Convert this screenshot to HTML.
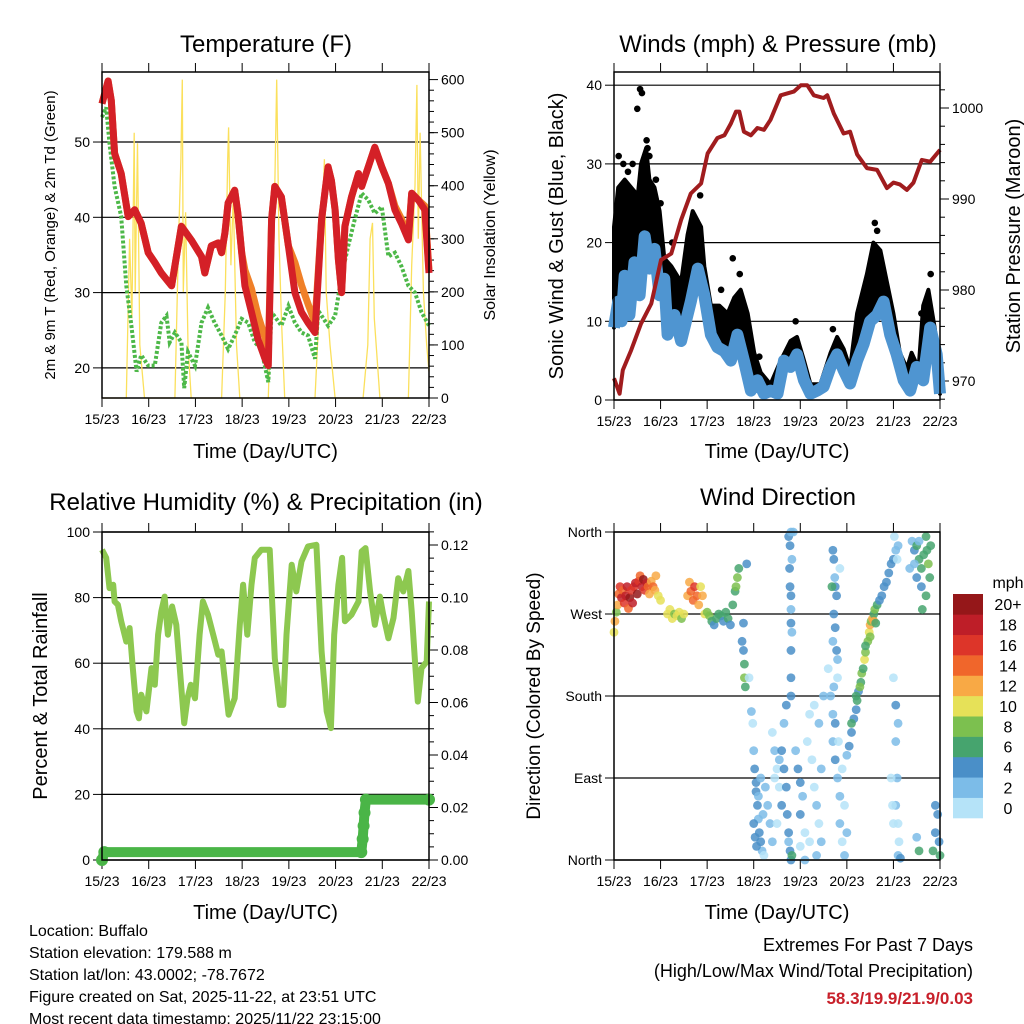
<!DOCTYPE html>
<html><head><meta charset="utf-8"><style>
body{margin:0;background:#fff;}
svg{display:block;font-family:"Liberation Sans",sans-serif;}
</style></head><body>
<svg id="c" width="1024" height="1024" viewBox="0 0 1024 1024" xmlns="http://www.w3.org/2000/svg"></svg>
<script>
// ---- data ----
const dayLabels=["15/23","16/23","17/23","18/23","19/23","20/23","21/23","22/23"];
const tempT=[0,.13,.2,.27,.41,.56,.7,.84,.99,1.13,1.27,1.49,1.7,1.91,2.13,2.2,2.34,2.49,2.56,2.63,2.7,2.84,2.91,2.99,3.06,3.2,3.34,3.49,3.56,3.63,3.7,3.84,3.99,4.13,4.27,4.41,4.56,4.7,4.77,4.84,4.91,4.99,5.06,5.13,5.2,5.34,5.49,5.56,5.7,5.84,5.99,6.13,6.27,6.41,6.56,6.63,6.77,6.91,7];
const tempRed=[55.1,58.1,55.5,48.5,45.8,40.1,41,39.2,35.3,34,32.6,30.9,38.8,37,34.8,32.6,36.2,36.6,35.3,37.9,41.9,43.6,40.5,35.3,30.9,27.4,23.8,21.2,20.3,39.7,44.1,42.7,36.2,30,27.4,26,24.7,39.7,43.2,46.7,44.9,41,34.4,30,38.8,42.7,45.8,44.1,46.7,49.3,46.7,44.5,41,39.2,37,43.2,42.3,41,32.6];
const tempOrange=[55.1,58.1,55.5,48.5,45.8,40.1,41,39.2,35.3,34,32.6,30.9,38.8,37,34.8,32.6,36.2,36.6,35.3,37.9,41.9,43.6,40.5,35.3,33,30.5,27,24,22,39.7,44.1,42.7,36.2,34,31,28.5,26,39.7,43.2,46.7,44.9,41,34.4,30,38.8,42.7,45.8,44.1,46.7,49.3,46.7,44.5,41.5,39.8,37.5,43.2,42.3,41.5,33];
const dewT=[0,.09,.16,.27,.41,.52,.63,.74,.84,.99,1.13,1.27,1.38,1.45,1.56,1.7,1.76,1.84,1.99,2.13,2.27,2.41,2.56,2.7,2.84,2.99,3.13,3.27,3.41,3.56,3.63,3.84,3.99,4.13,4.27,4.41,4.56,4.63,4.84,4.99,5.13,5.27,5.41,5.56,5.7,5.84,5.99,6.13,6.27,6.41,6.56,6.7,6.84,7];
const dewVal=[53.3,54.6,49.8,44.1,40.1,30.9,25.6,19.5,21.7,20.3,20.3,26,26.9,23.4,24.7,23.4,17.3,22.1,20.3,26,28,26,24.3,22.5,24.3,26.5,26,23.4,22.5,18.1,27.4,25.6,28.2,26,24.7,24.3,21.2,27.6,25.6,26.9,32.2,36.2,39.7,43.2,42.3,40.5,41.4,34.8,35.3,33.5,30.9,30,27.4,25.6];
const solarT=[0,.52,.59,.64,.69,.71,.76,.81,.91,1.56,1.64,1.69,1.72,1.74,1.79,1.84,1.91,2.56,2.64,2.69,2.71,2.76,2.81,2.88,2.95,3.56,3.64,3.7,3.74,3.79,3.84,3.91,4.56,4.64,4.7,4.76,4.8,4.88,4.99,5.59,5.69,5.74,5.79,5.83,5.95,6.56,6.63,6.7,6.74,6.77,6.81,6.88,6.95,7];
const solarVal=[0,0,300,150,500,200,480,100,0,0,300,450,600,200,350,100,0,0,200,450,510,250,380,100,0,0,250,400,600,300,150,0,0,150,300,450,200,100,0,0,100,300,330,150,0,0,250,400,590,300,500,200,100,50];
const presT=[0,.12,.19,.37,.58,.8,1.01,1.23,1.44,1.65,1.87,2.01,2.22,2.37,2.51,2.62,2.69,2.79,2.94,3.08,3.22,3.36,3.58,3.72,3.86,4.01,4.15,4.29,4.5,4.58,4.72,4.93,5.07,5.22,5.43,5.65,5.86,6,6.14,6.29,6.43,6.61,6.79,7];
const presVal=[970.3,968.6,971.2,973.4,976.3,978.5,983.3,984,987.7,990.6,991.7,995,996.7,997,998.3,999.6,999.6,997.4,997,997.8,997.6,998.7,1001.4,1001.6,1001.8,1002.5,1002.5,1001.4,1001.1,1001.4,999.4,997.2,997.4,994.9,993.4,993.2,991.2,991.8,991.6,991,991.8,994.3,994.1,995.4];
const windT=[0,.09,.16,.23,.33,.44,.55,.66,.76,.87,.98,1.08,1.15,1.3,1.44,1.65,1.8,1.94,2.08,2.22,2.37,2.51,2.65,2.79,2.94,3.08,3.22,3.36,3.51,3.65,3.79,3.93,4.08,4.22,4.36,4.5,4.65,4.79,4.93,5.07,5.22,5.36,5.5,5.65,5.79,5.93,6.07,6.22,6.36,6.5,6.64,6.79,6.93,7];
const windVal=[9.2,12.5,10,15.8,10.8,17.5,13.3,20.8,16.7,19.2,13.3,15.4,8.3,10.8,7.5,12.5,16.7,13.3,8.3,6.7,6.2,5,8.3,5,1.2,2.5,.8,1.2,.8,5,4.2,5.8,2.5,.8,1.2,1.7,4.2,5.8,3.8,2.1,5,7.1,10,10.8,12.5,8.3,5.8,2.5,1.2,4.2,2.5,9.2,5.8,.8];
const gustT=[0,.09,.23,.37,.51,.58,.69,.76,.87,.98,1.08,1.23,1.44,1.58,1.69,1.87,1.94,2.08,2.26,2.44,2.58,2.72,2.87,3.01,3.15,3.36,3.58,3.79,3.93,4.08,4.22,4.43,4.65,4.79,4.93,5.07,5.22,5.43,5.57,5.72,5.86,6,6.14,6.29,6.39,6.54,6.64,6.75,6.89,7];
const gustVal=[22,27,28,27,26,30,32,28,27,24,18,17,15,21,24,22,17,12,12,11,13,14,11,6,3.5,2,5,7.5,8,5,2,2,6,8,6.5,4,11,16,20,19,15,11,6,4,6,4,12,14,9,1];
const gustOutT=[0.1,0.2,0.3,0.4,0.5,0.56,0.6,0.7,0.72,0.76,0.9,1.0,1.25,1.72,1.85,2.3,2.55,2.7,3.12,3.9,4.7,5.6,5.65,6.6,6.8];
const gustOutVal=[31,30,29,30,37,39.5,39,33,32,31,28,25,20,22.5,26,14,18,16,5.5,10,9,22.5,21.5,11,16];
const rhT=[0,.09,.16,.24,.27,.34,.41,.52,.59,.66,.74,.79,.84,.95,1.06,1.13,1.2,1.27,1.34,1.41,1.5,1.59,1.66,1.71,1.76,1.83,1.9,1.99,2.09,2.16,2.27,2.38,2.49,2.56,2.64,2.71,2.84,2.95,3.02,3.11,3.2,3.27,3.41,3.59,3.7,3.81,3.88,3.95,4.06,4.16,4.27,4.41,4.59,4.7,4.81,4.9,4.97,5.06,5.14,5.2,5.34,5.49,5.56,5.64,5.74,5.84,5.95,6.02,6.13,6.24,6.34,6.45,6.56,6.63,6.7,6.76,6.84,6.95,7];
const rhVal=[94.6,92.1,82.9,83.9,78.8,77.8,72.8,66.6,70.7,58.5,45.3,43.2,50.4,45.3,58.5,53.4,68.7,75.8,80.3,68.7,77.3,71.7,59.5,50.4,41.7,49.3,53.4,49.3,68.7,78.8,74.8,68.7,62.6,63.6,53.4,44.3,49.3,71.7,83.9,68.7,83.9,92.1,94.6,94.6,61.5,47.3,47.3,68.7,90,81.9,91,95.6,96.1,63.6,45.3,40.2,68.7,83.9,92.1,72.8,74.8,78.8,94.1,95.1,81.9,71.7,80.3,74.8,67.6,73.8,85.9,81.9,88.1,75.8,60.5,48.3,58.5,60.5,78.8];
const precT=[0,.05,5.55,5.58,5.6,5.62,5.65,7];
const precVal=[0,.003,.003,.008,.013,.018,.023,.023];
const dirDay=[0,.02,.05,.08,.1,.13,.16,.19,.22,.25,.28,.31,.34,.37,.4,.43,.46,.5,.53,.56,.6,.63,.66,.7,.73,.76,.8,.84,.88,.9,.95,1,1.15,1.2,1.25,1.3,1.35,1.4,1.45,1.5,1.58,1.62,1.65,1.7,1.73,1.78,1.82,1.86,1.9,1.95,2,2.05,2.1,2.15,2.2,2.25,2.3,2.35,2.4,2.45,2.5,2.55,2.6,2.62,2.65,2.68,2.75,2.78,2.8,2.8,2.82,2.78,2.85,2.9,2.95,
3,3.02,3.05,3.05,3.08,3.1,3.12,3.15,3.18,3,3.03,3.06,3.1,3.15,3.2,3.22,2.98,3.25,3.3,3.35,
3.4,3.45,3.5,3.55,3.6,3.6,3.65,3.7,3.72,3.75,3.78,3.5,3.4,3.45,3.55,3.65,3.7,3.8,3.82,3.75,
3.75,3.78,3.8,3.82,3.78,3.8,3.8,3.82,3.8,3.8,3.8,3.85,3.77,3.8,
3.9,3.95,4,4.05,4,4.1,4.15,4.2,4.25,4.3,4.35,4.4,4.45,4.3,4.4,4.45,4.5,4.2,4.1,4.35,4,
4.7,4.72,4.75,4.78,4.72,4.75,4.7,4.78,4.8,4.74,4.8,4.72,4.68,4.6,4.65,4.7,4.75,4.7,4.75,4.8,4.85,4.85,4.9,4.95,4.82,4.9,4.95,5,4.85,
5,5.05,5.1,5.15,5.2,5.22,5.25,5.3,5.32,5.35,5.38,5.4,5.45,5.48,5.5,5.52,5.55,5.58,5.6,5.65,5.7,5.75,5.8,5.85,5.9,5.95,6,5.1,5.2,5.28,5.4,5.58,5.62,5.5,
6.02,6.05,6.08,6.1,6,6.05,6.1,6.08,6.05,6.1,6.12,6.1,6.15,6.05,
6.4,6.45,6.5,6.55,6.6,6.65,6.7,6.72,6.75,6.78,6.8,6.6,6.5,6.45,6.7,6.55,6.35,6.62,
6.85,6.9,6.95,6.98,7,6.9,6.5,6.55,5.95,5.98,6];
const dirDeg=[250,262,272,280,292,300,288,296,282,290,300,276,288,296,282,300,304,292,306,312,300,308,296,304,300,292,306,300,296,312,290,285,270,275,265,270,268,272,265,270,290,305,295,285,300,290,280,300,290,270,272,268,262,258,265,270,268,262,272,265,258,280,295,300,310,320,240,230,215,200,190,260,325,200,163,
120,100,85,75,60,45,30,20,10,40,25,15,70,90,50,5,150,80,60,40,
140,120,100,80,60,120,100,80,50,30,10,40,20,90,110,150,170,0,5,20,
355,345,360,330,300,290,275,250,230,200,180,360,320,260,
120,100,85,70,50,30,130,160,110,80,60,40,20,170,150,100,180,20,0,5,15,
340,330,300,290,270,255,240,230,220,310,200,190,300,210,180,160,150,130,110,90,70,40,20,5,130,100,60,30,320,
115,125,140,155,165,175,185,195,205,210,220,228,240,250,258,262,265,270,275,280,285,290,300,305,315,325,330,150,180,190,235,262,260,245,
355,340,330,345,200,170,150,90,60,40,20,5,2,130,
350,340,345,330,320,335,355,340,325,310,345,300,310,325,290,350,320,275,
10,30,50,20,5,60,25,10,90,60,40];
const dirSpd=[10,12,8,12,14,16,18,14,16,18,18,14,20,16,18,16,18,20,16,14,18,20,16,18,14,12,12,14,12,12,10,10,10,10,10,8,10,10,8,10,12,12,14,14,16,14,12,10,12,10,8,8,6,4,6,6,6,4,6,6,4,6,6,8,8,6,4,4,6,8,6,4,4,0,2,
2,4,4,4,4,2,4,4,2,4,4,4,2,2,2,0,0,2,2,2,
0,2,0,0,4,4,4,4,4,4,4,0,2,0,2,2,4,4,6,2,
4,4,2,2,4,4,2,2,4,4,4,2,4,4,
2,4,4,2,4,0,0,0,0,0,2,0,2,0,2,2,2,0,2,2,0,
4,4,4,4,4,4,2,4,2,2,0,2,6,0,2,2,4,2,4,2,2,2,0,2,0,0,0,2,0,
2,4,4,4,4,6,4,6,8,6,10,8,8,10,12,8,12,6,8,6,4,4,4,4,4,4,4,6,6,8,6,12,6,8,
0,2,0,2,0,4,2,2,2,0,0,2,4,2,
2,4,6,6,6,6,6,6,8,6,6,4,4,2,6,2,2,6,
6,4,4,4,6,4,2,6,0,0,0];
const spdLabels=["0","2","4","6","8","10","12","14","16","18","20+"];
const spdColors=["#b5e3f8","#7cbce8","#4a8fc8","#46a46e","#7cc04f","#e6e158","#f8a945","#f0662b","#dd3529","#be1e28","#951719"];

// ---- helpers ----
const NS="http://www.w3.org/2000/svg";
const svg=document.getElementById('c');
function el(tag,attrs,parent){const e=document.createElementNS(NS,tag);for(const k in attrs)e.setAttribute(k,attrs[k]);(parent||svg).appendChild(e);return e;}
function txt(s,x,y,size,anchor,parent,rot){const e=el('text',{x:x,y:y,'font-size':size,'text-anchor':anchor||'middle',fill:'#000'},parent);if(rot)e.setAttribute('transform','rotate('+rot+' '+x+' '+y+')');e.textContent=s;return e;}
function lin(d0,d1,r0,r1){return v=>r0+(v-d0)/(d1-d0)*(r1-r0);}

function panel(name,x0,x1,y0,y1,xlabY){
  const g=el('g',{});
  
  
  const xs=lin(0,7,x0,x1);
  dayLabels.forEach((d,i)=>{
    const x=xs(i);
    el('line',{x1:x,x2:x,y1:y0-9,y2:y0,stroke:'#000','stroke-width':1},g);
    el('line',{x1:x,x2:x,y1:y1,y2:y1+9,stroke:'#000','stroke-width':1},g);
    const t=txt(d,x,y1+26,14,'middle',g);
    
    
  });
  const xt=txt('Time (Day/UTC)',(x0+x1)/2,xlabY,20,'middle',g);
  
  
  return {g,xs};
}
function frame(g,x0,x1,y0,y1){el('rect',{x:x0,y:y0,width:x1-x0,height:y1-y0,fill:'none',stroke:'#000','stroke-width':1.5},g);}
function poly(g,xs,ys,T,V,attrs){const pts=T.map((t,i)=>xs(t).toFixed(1)+','+ys(V[i]).toFixed(1)).join(' ');const a=Object.assign({points:pts,fill:'none'},attrs);return el('polyline',a,g);}
function leftTicks(g,x0,x1,ys,vals,labels,grid){
  vals.forEach((v,i)=>{const y=ys(v);
    el('line',{x1:x0-9,x2:x0,y1:y,y2:y,stroke:'#000'},g);
    if(grid)el('line',{x1:x0,x2:x1,y1:y,y2:y,stroke:'#000','stroke-width':1.2},g);
    const t=txt(labels[i],x0-12,y+5,14,'end',g);
    
    });
}
function rightTicks(g,x1,ys,vals,labels,minor){
  vals.forEach((v,i)=>{const y=ys(v);
    el('line',{x1:x1,x2:x1+9,y1:y,y2:y,stroke:'#000'},g);
    const t=txt(labels[i],x1+12,y+5,14,'start',g);
    
    });
  (minor||[]).forEach(v=>{const y=ys(v);el('line',{x1:x1,x2:x1+5,y1:y,y2:y,stroke:'#000'},g);});
}
function range(a,b,s){const r=[];for(let v=a;v<=b+1e-9;v+=s)r.push(+v.toFixed(4));return r;}

// ---- Temperature panel ----
(function(){
  const x0=102,x1=429,y0=72,y1=398;
  const {g,xs}=panel('temperature-panel',x0,x1,y0,y1,458);
  const yT=lin(16,59.3,y1,y0), yS=lin(0,600,y1,79.6);
  leftTicks(g,x0,x1,yT,[20,30,40,50],["20","30","40","50"],true);
  rightTicks(g,x1,yS,[0,100,200,300,400,500,600],["0","100","200","300","400","500","600"],range(20,580,20));
  const s=poly(g,xs,yS,solarT,solarVal,{stroke:'#fbe05c','stroke-width':1.3});
  
  const d=poly(g,xs,yT,dewT,dewVal,{stroke:'#4db848','stroke-width':4,'stroke-dasharray':'3 2'});
  
  const o=poly(g,xs,yT,tempT,tempOrange,{stroke:'#f08028','stroke-width':7,'stroke-linejoin':'round'});
  
  const r=poly(g,xs,yT,tempT,tempRed,{stroke:'#d42027','stroke-width':7,'stroke-linejoin':'round'});
  
  frame(g,x0,x1,y0,y1);
  const t=txt('Temperature (F)',266,52,24,'middle',g);
  const a=txt('2m & 9m T (Red, Orange) & 2m Td (Green)',55,235,15,'middle',g,-90);
  const b=txt('Solar Insolation (Yellow)',495,235,16,'middle',g,-90);
})();

// ---- Winds panel ----
(function(){
  const x0=614,x1=940,y0=72,y1=400;
  const {g,xs}=panel('winds-panel',x0,x1,y0,y1,458);
  const yW=lin(0,10,y1,y1-78.7), yP=p=>108+(1000-p)*9.1;
  leftTicks(g,x0,x1,yW,[0,10,20,30,40],["0","10","20","30","40"],true);
  rightTicks(g,x1,yP,[970,980,990,1000],["970","980","990","1000"],range(968,1003,2));
  const pts=gustT.map((t,i)=>xs(t).toFixed(1)+','+yW(gustVal[i]).toFixed(1)).concat(windT.map((t,i)=>xs(t).toFixed(1)+','+yW(windVal[i]).toFixed(1)).reverse()).join(' ');
  const cl=el('polygon',{points:pts,fill:'#000',stroke:'#000','stroke-width':4,'stroke-linejoin':'round'},g);
  
  gustOutT.forEach((t,i)=>{const c=el('circle',{cx:xs(t),cy:yW(gustOutVal[i]),r:3.3,fill:'#000'},g);
    });
  const w=poly(g,xs,yW,windT,windVal,{stroke:'#4f95d1','stroke-width':12,'stroke-linejoin':'round'});
  
  const p=poly(g,xs,yP,presT,presVal,{stroke:'#a01c1e','stroke-width':4,'stroke-linejoin':'round'});
  
  frame(g,x0,x1,y0,y1);
  const t=txt('Winds (mph) & Pressure (mb)',778,52,24,'middle',g);
  const a=txt('Sonic Wind & Gust (Blue, Black)',563,236,20,'middle',g,-90);
  const b=txt('Station Pressure (Maroon)',1020,236,20,'middle',g,-90);
})();

// ---- RH panel ----
(function(){
  const x0=102,x1=429,y0=532,y1=860;
  const {g,xs}=panel('humidity-panel',x0,x1,y0,y1,919);
  const yR=lin(0,100,y1,y0), yPr=lin(0,0.02,y1,y1-52.5);
  leftTicks(g,x0,x1,yR,[0,20,40,60,80,100],["0","20","40","60","80","100"],true);
  rightTicks(g,x1,yPr,[0,.02,.04,.06,.08,.1,.12],["0.00","0.02","0.04","0.06","0.08","0.10","0.12"],range(0.005,0.125,0.005));
  const r=poly(g,xs,yR,rhT,rhVal,{stroke:'#8dc850','stroke-width':6,'stroke-linejoin':'round'});
  
  const p=poly(g,xs,yPr,precT,precVal,{stroke:'#4ab547','stroke-width':10,'stroke-linejoin':'round','stroke-linecap':'round'});
  
  precT.forEach((t,i)=>{const c=el('circle',{cx:xs(t),cy:yPr(precVal[i]),r:6,fill:'#4ab547'},g);
    });
  frame(g,x0,x1,y0,y1);
  const t=txt('Relative Humidity (%) & Precipitation (in)',266,510,24,'middle',g);
  const a=txt('Percent & Total Rainfall',47,696,20,'middle',g,-90);
})();

// ---- Wind direction panel ----
(function(){
  const x0=614,x1=940,y0=532,y1=860;
  const {g,xs}=panel('wind-direction-panel',x0,x1,y0,y1,919);
  const yD=lin(0,360,y1,y0);
  leftTicks(g,x0,x1,yD,[0,90,180,270,360],["North","East","South","West","North"],true);
  dirDay.forEach((t,i)=>{const k=Math.min(10,Math.round(dirSpd[i]/2));
    const c=el('circle',{cx:xs(t),cy:yD(dirDeg[i]),r:4.4,fill:spdColors[k],'fill-opacity':0.85},g);
    });
  frame(g,x0,x1,y0,y1);
  const t=txt('Wind Direction',778,505,24,'middle',g);
  const a=txt('Direction (Colored By Speed)',540,696,19,'middle',g,-90);
  const cb=el('g',{},g);
  
  const h=(818-594)/11;
  spdColors.forEach((c,i)=>{const y=818-(i+1)*h;
    const r=el('rect',{x:953,y:y,width:30,height:h+0.3,fill:c},cb);
    
    const l=txt(spdLabels[i],1008,y+h/2+6,16,'middle',cb);
    });
  const u=txt('mph',1008,588,16,'middle',cb);
})();

// ---- footer ----
const info=["Location: Buffalo","Station elevation: 179.588 m","Station lat/lon: 43.0002; -78.7672","Figure created on Sat, 2025-11-22, at 23:51 UTC","Most recent data timestamp: 2025/11/22 23:15:00"];
info.forEach((s,i)=>{const t=txt(s,29,936+i*22,16,'start');});
const e1=txt('Extremes For Past 7 Days',973,951,18,'end');
const e2=txt('(High/Low/Max Wind/Total Precipitation)',973,977,18,'end');
const e3=txt('58.3/19.9/21.9/0.03',973,1004,17,'end');e3.setAttribute('fill','#c8202a');e3.setAttribute('font-weight','bold');

</script>
</body></html>
